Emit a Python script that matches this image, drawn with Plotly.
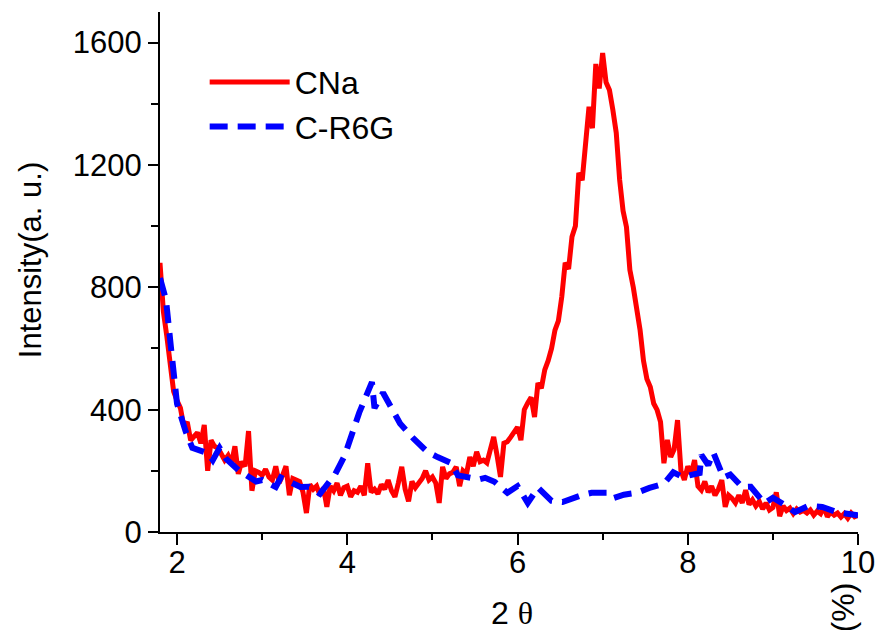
import numpy as np
import plotly.graph_objects as go

# ---------------- data ----------------
# CNa: XRD scan, 2theta grid from 1.80 to 10.00 with step 0.04
cna_start, cna_step = 1.80, 0.04
cna_y = [
    880, 720, 640, 545, 460, 430, 405, 345, 360, 300,
    315, 325, 290, 350, 200, 300, 280, 275, 255, 235,
    250, 225, 280, 190, 230, 215, 330, 135, 200, 195,
    185, 205, 180, 170, 215, 160, 185, 215, 120, 175,
    170, 165, 130, 62, 155, 140, 150, 120, 145, 82,
    150, 135, 160, 120, 145, 150, 115, 135, 130, 150,
    120, 225, 130, 140, 125, 155, 140, 170, 135, 115,
    160, 213, 140, 100, 165, 145, 160, 175, 200, 170,
    180, 160, 95, 213, 175, 190, 195, 213, 150, 200,
    190, 245, 215, 262, 230, 235, 226, 275, 311, 250,
    180, 290, 295, 310, 330, 343, 300, 400, 422, 440,
    376, 487, 470, 530, 560, 600, 660, 690, 769, 880,
    860, 965, 1000, 1174, 1150, 1282, 1390, 1320, 1530, 1450,
    1566, 1470, 1445, 1380, 1305, 1151, 1050, 997, 857, 800,
    736, 660, 560, 500, 474, 420, 399, 360, 225, 301,
    245, 270, 366, 200, 170, 215, 190, 235, 150, 137,
    165, 130, 150, 120, 140, 170, 82, 120, 110, 95,
    120, 95, 137, 90, 105, 85, 100, 75, 95, 72,
    80, 130, 52, 85, 70, 78, 60, 75, 65, 70,
    62, 72, 55, 68, 60, 82, 50, 65, 55, 62,
    49, 60, 45, 62, 50, 55,
]
cna_x = np.round(cna_start + cna_step * np.arange(len(cna_y)), 2)

# C-R6G
r6g_x = [1.80, 1.87, 1.93, 2.00, 2.10, 2.18, 2.36, 2.42, 2.50, 2.58, 2.73, 2.85,
         2.93, 3.00, 3.16, 3.22, 3.35, 3.45, 3.55, 3.68, 3.86, 3.97, 4.14, 4.29,
         4.32, 4.42, 4.52, 4.62, 4.78, 4.94, 5.06, 5.22, 5.30, 5.55, 5.62, 5.73,
         5.88, 6.00, 6.12, 6.24, 6.40, 6.53, 6.76, 6.87, 7.06, 7.12, 7.25, 7.40,
         7.55, 7.72, 7.83, 7.94, 8.14, 8.16, 8.24, 8.30, 8.42, 8.50, 8.64, 8.74,
         8.90, 9.00, 9.15, 9.26, 9.42, 9.58, 9.76, 9.88, 10.00]
r6g_y = [830, 760, 600, 420, 330, 275, 258, 235, 275, 238, 200, 180,
         165, 170, 147, 178, 158, 147, 148, 125, 190, 250, 390, 490,
         405, 455, 405, 355, 305, 262, 245, 225, 185, 172, 177, 164,
         128, 150, 95, 145, 102, 98, 121, 128, 128, 110, 122, 128,
         144, 158, 195, 180, 193, 252, 219, 260, 178, 188, 147, 148,
         94, 112, 87, 65, 86, 82, 64, 60, 55]

x_ticks = [2, 4, 6, 8, 10]
x_minor = [3, 5, 7, 9]
y_ticks = [0, 400, 800, 1200, 1600]

FONT = "Arial, 'Liberation Sans', sans-serif"

fig = go.Figure()
fig.add_trace(go.Scatter(
    x=cna_x, y=cna_y, mode="lines", name="CNa",
    line=dict(color="#ff0000", width=5),
))
fig.add_trace(go.Scatter(
    x=r6g_x, y=r6g_y, mode="lines", name="C-R6G",
    line=dict(color="#0000ff", width=6, dash="18px,10px"),
))

fig.update_layout(
    width=879, height=630,
    margin=dict(l=160, r=21, t=12, b=98, autoexpand=False),
    paper_bgcolor="white", plot_bgcolor="white",
    font=dict(family=FONT, size=31, color="black"),
    showlegend=True,
    legend=dict(
        x=0.064, y=0.918, xanchor="left", yanchor="top",
        bgcolor="rgba(0,0,0,0)", borderwidth=0,
        font=dict(family=FONT, size=32, color="black"),
        itemwidth=80, tracegroupgap=0,
    ),
    xaxis=dict(
        range=[1.8, 10], tickmode="array", tickvals=x_ticks,
        ticktext=[str(v) for v in x_ticks],
        ticks="outside", ticklen=11, tickwidth=2, tickcolor="black",
        minor=dict(tickmode="array", tickvals=x_minor, ticks="outside",
                   ticklen=6, tickwidth=2, tickcolor="black", showgrid=False),
        showline=True, linewidth=2, linecolor="black",
        showgrid=False, zeroline=False, mirror=False,
        tickfont=dict(family=FONT, size=31),
        ticklabelstandoff=-9, automargin=False, ticklabeloverflow="allow",
    ),
    yaxis=dict(
        range=[0, 1700], tickmode="array", tickvals=y_ticks,
        ticks="outside", ticklen=10, tickwidth=2, tickcolor="black",
        minor=dict(dtick=200, tick0=0, ticks="outside", ticklen=7,
                   tickwidth=2, tickcolor="black", showgrid=False),
        showline=True, linewidth=2, linecolor="black",
        showgrid=False, zeroline=False, mirror=False,
        tickfont=dict(family=FONT, size=31), automargin=False,
    ),
    annotations=[
        dict(text="Intensity(a. u.)", xref="paper", yref="paper",
             x=-0.186, y=0.523, xanchor="center", yanchor="middle",
             textangle=-90, showarrow=False,
             font=dict(family=FONT, size=31, color="black")),
        dict(text="2 <span style='font-family:Liberation Serif, Times New Roman, serif'>θ</span>",
             xref="paper", yref="paper", x=0.505, y=-0.155,
             xanchor="center", yanchor="middle", showarrow=False,
             font=dict(family=FONT, size=32, color="black")),
        dict(text="(%)", xref="paper", yref="paper", x=0.9785, y=-0.145,
             xanchor="center", yanchor="middle", textangle=-90,
             showarrow=False, font=dict(family=FONT, size=32, color="black")),
    ],
)

fig.write_html("out.html", config={"displayModeBar": False},
               post_script="document.body.style.margin='0';")
